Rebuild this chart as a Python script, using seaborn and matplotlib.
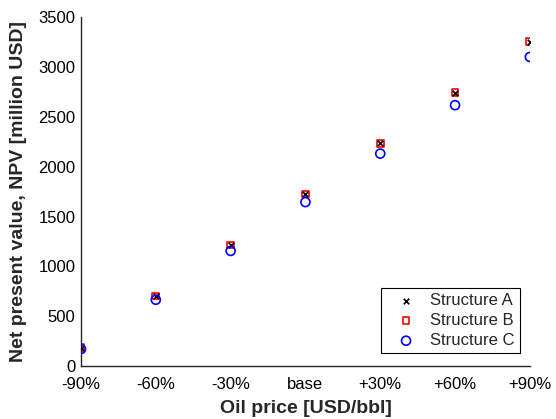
import matplotlib
matplotlib.use("Agg")
import matplotlib.pyplot as plt
import seaborn as sns
import pandas as pd

categories = ["-90%", "-60%", "-30%", "base", "+30%", "+60%", "+90%"]
structure_a = [180, 700, 1212, 1725, 2235, 2744, 3252]
structure_b = [185, 702, 1215, 1727, 2237, 2746, 3255]
structure_c = [170, 665, 1155, 1645, 2132, 2618, 3102]
y_ticks = [0, 500, 1000, 1500, 2000, 2500, 3000, 3500]

sns.set_style("white")
plt.rcParams["font.family"] = ["Liberation Sans", "DejaVu Sans"]

fig = plt.figure(figsize=(5.56, 4.19), dpi=100)
ax = fig.add_axes([0.1457, 0.1265, 0.953 - 0.1457, 0.9587 - 0.1265])

pos = list(range(len(categories)))
df = pd.DataFrame({"pos": pos, "A": structure_a, "B": structure_b, "C": structure_c})

sns.scatterplot(data=df, x="pos", y="A", ax=ax, marker="x", color="black",
                s=16, linewidth=1.2, label="Structure A", zorder=3)
sns.scatterplot(data=df, x="pos", y="B", ax=ax, marker="s", facecolor="none",
                edgecolor="red", s=24, linewidth=1.2, label="Structure B", zorder=2)
sns.scatterplot(data=df, x="pos", y="C", ax=ax, marker="o", facecolor="none",
                edgecolor="blue", s=42, linewidth=1.2, label="Structure C", zorder=4)

ax.set_xlim(0, 6)
ax.set_ylim(0, 3500)
ax.set_xticks(pos)
ax.set_xticklabels(categories)
ax.set_yticks(y_ticks)
ax.tick_params(direction="in", length=4, width=1, labelsize=12, color="#262626",
               labelcolor="black")
ax.tick_params(axis="x", pad=8)
ax.tick_params(axis="y", pad=4)
for s in ["top", "right"]:
    ax.spines[s].set_visible(False)
for s in ["left", "bottom"]:
    ax.spines[s].set_color("#262626")
    ax.spines[s].set_linewidth(1)

ax.set_xlabel("Oil price [USD/bbl]", fontsize=14, fontweight="bold", labelpad=6)
ax.set_ylabel("Net present value, NPV [million USD]", fontsize=14, fontweight="bold", labelpad=8)

leg = ax.legend(loc="lower right", bbox_to_anchor=(0.977, 0.037), borderaxespad=0,
                fontsize=12, frameon=True, fancybox=False, edgecolor="black",
                framealpha=1, handlelength=2.4, handletextpad=0.24, borderpad=0.3,
                labelspacing=0.3)
leg.get_frame().set_linewidth(0.8)

fig.savefig("out.png", dpi=100)
